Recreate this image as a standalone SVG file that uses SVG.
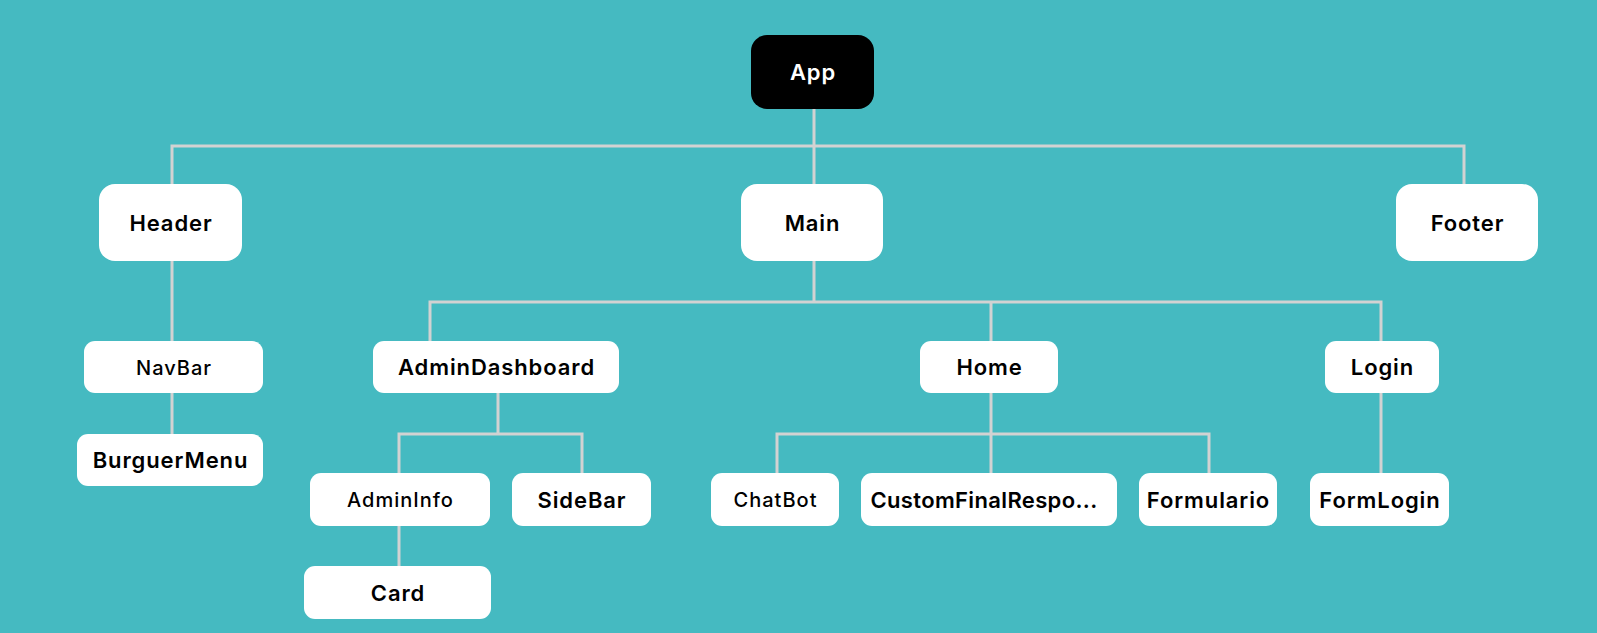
<svg xmlns="http://www.w3.org/2000/svg" width="1597" height="633" viewBox="0 0 1597 633">
<style>
.bg{fill:#45BAC1}
.n{fill:#FFFFFF}
.root{fill:#000000}
.t{font-family:"Inter","Noto Sans","Liberation Sans",sans-serif;font-size:22px;font-weight:600;letter-spacing:0.9px;fill:#000000;text-anchor:middle}
.s{font-weight:500;font-size:20px;letter-spacing:1px}
.w{fill:#FFFFFF}
.c{fill:none;stroke:#D2D2D2;stroke-width:3}
</style>
<rect class="bg" x="0" y="0" width="1597" height="633"/>
<g id="connectors">
<path class="c" d="M814 109V184"/>
<path class="c" d="M172 184V146H1464V184"/>
<path class="c" d="M172 261V341"/>
<path class="c" d="M172 393V434"/>
<path class="c" d="M814 261V302"/>
<path class="c" d="M430 341V302H1381V341"/>
<path class="c" d="M991 302V341"/>
<path class="c" d="M498 393V434"/>
<path class="c" d="M399 473V434H582V473"/>
<path class="c" d="M399 526V566"/>
<path class="c" d="M991 393V473"/>
<path class="c" d="M777 473V434H1209V473"/>
<path class="c" d="M1381 393V473"/>
</g>
<g id="node-app"><rect class="root" x="751" y="35" width="123" height="74" rx="16"/><text class="t w" x="813" y="80">App</text></g>
<g id="node-header"><rect class="n" x="99" y="184" width="143" height="77" rx="16"/><text class="t" x="171" y="230.5">Header</text></g>
<g id="node-main"><rect class="n" x="741" y="184" width="142" height="77" rx="16"/><text class="t" x="812.5" y="230.5">Main</text></g>
<g id="node-footer"><rect class="n" x="1396" y="184" width="142" height="77" rx="16"/><text class="t" x="1467.5" y="230.5">Footer</text></g>
<g id="node-navbar"><rect class="n" x="84" y="341" width="179" height="52" rx="11"/><text class="t s" x="174" y="374.5">NavBar</text></g>
<g id="node-burguermenu"><rect class="n" x="77" y="434" width="186" height="52" rx="11"/><text class="t" x="170.5" y="468">BurguerMenu</text></g>
<g id="node-admindashboard"><rect class="n" x="373" y="341" width="246" height="52" rx="11"/><text class="t" x="496.5" y="375">AdminDashboard</text></g>
<g id="node-home"><rect class="n" x="920" y="341" width="138" height="52" rx="11"/><text class="t" x="989.5" y="375">Home</text></g>
<g id="node-login"><rect class="n" x="1325" y="341" width="114" height="52" rx="11"/><text class="t" x="1382.5" y="375">Login</text></g>
<g id="node-admininfo"><rect class="n" x="310" y="473" width="180" height="53" rx="11"/><text class="t s" x="400.5" y="507">AdminInfo</text></g>
<g id="node-sidebar"><rect class="n" x="512" y="473" width="139" height="53" rx="11"/><text class="t" x="582" y="507.5">SideBar</text></g>
<g id="node-card"><rect class="n" x="304" y="566" width="187" height="53" rx="11"/><text class="t" x="398" y="600.5">Card</text></g>
<g id="node-chatbot"><rect class="n" x="711" y="473" width="128" height="53" rx="11"/><text class="t s" x="775.5" y="507">ChatBot</text></g>
<g id="node-customfinalresponse"><rect class="n" x="861" y="473" width="256" height="53" rx="11"/><text class="t" x="984" y="507.5" style="letter-spacing:0.35px">CustomFinalRespo...</text></g>
<g id="node-formulario"><rect class="n" x="1139" y="473" width="138" height="53" rx="11"/><text class="t" x="1208.5" y="507.5">Formulario</text></g>
<g id="node-formlogin"><rect class="n" x="1310" y="473" width="139" height="53" rx="11"/><text class="t" x="1380" y="507.5">FormLogin</text></g>
</svg>
